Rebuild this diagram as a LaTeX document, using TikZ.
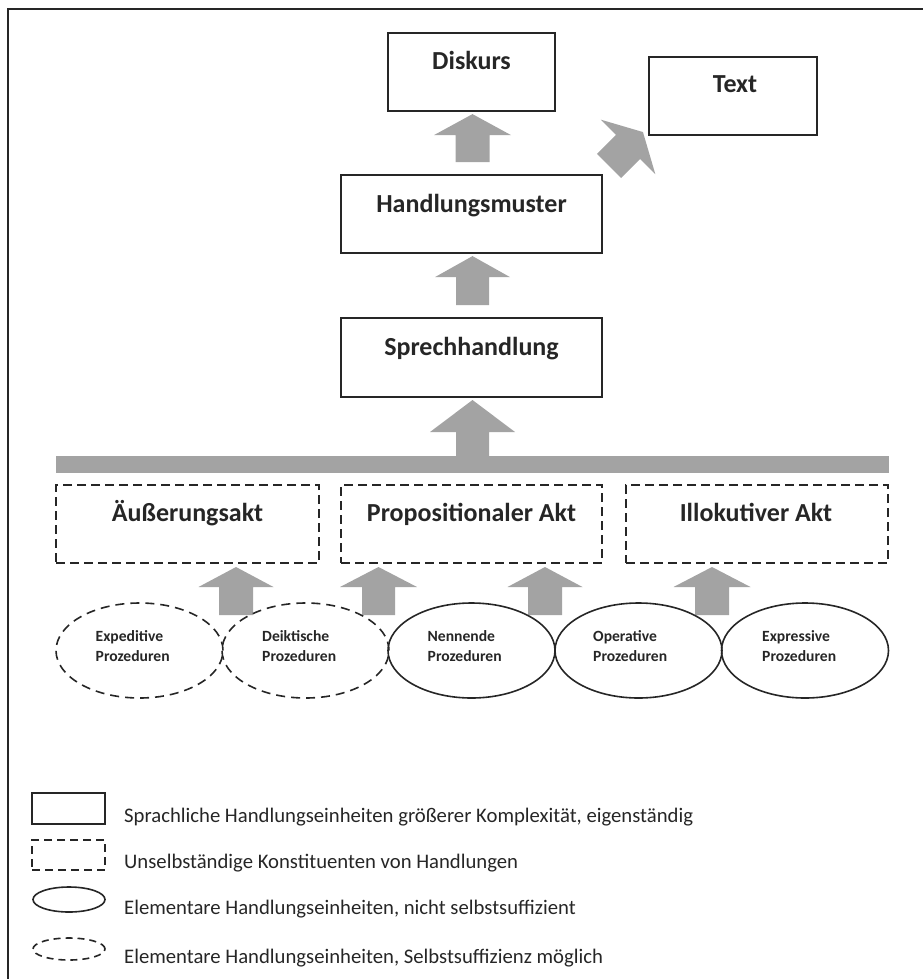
\documentclass[tikz,border=0pt]{standalone}
\usepackage{fontspec}
\setmainfont{Carlito}
\usetikzlibrary{shapes.geometric,calc}
\definecolor{ink}{RGB}{38,38,38}
\definecolor{arrowgray}{RGB}{163,163,163}
\begin{document}
\begin{tikzpicture}[x=1pt,y=-1pt,
  solidbox/.style={draw=ink,line width=1.8pt,rectangle,inner sep=0pt},
  dashbox/.style={solidbox,dash pattern=on 9pt off 5pt},
  solidell/.style={draw=ink,line width=1.6pt,ellipse,inner sep=0pt,minimum width=167pt,minimum height=95pt},
  dashell/.style={solidell,dash pattern=on 9pt off 6pt},
  bigtxt/.style={font=\bfseries\fontsize{26}{30}\selectfont,text=ink,anchor=base,inner sep=0pt},
  proctxt/.style={font=\bfseries\fontsize{15.6}{20}\selectfont,text=ink,align=left,anchor=base west,inner sep=0pt},
  legtxt/.style={font=\fontsize{20.7}{25}\selectfont,text=ink,anchor=base west,inner sep=0pt},
  pics/barrow/.style n args={4}{code={
    \fill[arrowgray] (-#1,0) -- (-#1,-#2) -- (-#3,-#2) -- (0,-#2-#4) -- (#3,-#2) -- (#1,-#2) -- (#1,0) -- cycle;}}
]
\useasboundingbox (0,0) rectangle (923,979);
% frame (top and left edges visible)
\draw[ink,line width=2pt] (8,979) -- (8,9) -- (923,9);

% upper boxes
\node[solidbox,minimum width=167pt,minimum height=78pt] (disk) at (471.5,72) {};
\node[bigtxt] (diskt) at (471.5,70) {Diskurs};
\node[solidbox,minimum width=168pt,minimum height=78pt] (text) at (733,96) {};
\node[bigtxt] (textt) at (735,93) {Text};
\node[solidbox,minimum width=261pt,minimum height=78pt] (hm) at (471.5,214) {};
\node[bigtxt] (hmt) at (471.5,212) {Handlungsmuster};
\node[solidbox,minimum width=261pt,minimum height=79pt] (sh) at (471.5,357.5) {};
\node[bigtxt] (sht) at (471.5,355) {Sprechhandlung};

% block arrows between upper boxes
\pic at ($(hm.north)+(1,-12)$) {barrow={17}{27}{38.5}{21}};
\pic[rotate=-45] at (609,166) {barrow={17}{27}{38.5}{21}};
\pic at ($(sh.north)+(1,-12)$) {barrow={16.5}{28}{37.5}{21}};

% bar and big arrow
\fill[arrowgray] (56,456) rectangle (889,473);
\pic at (472.5,457) {barrow={16.5}{25}{42.5}{32}};

% dashed act boxes
\node[dashbox,minimum width=263pt,minimum height=78pt] (ua) at (187.5,524) {};
\node[bigtxt] (uat) at (187.5,521) {Äußerungsakt};
\node[dashbox,minimum width=261pt,minimum height=78pt] (pa) at (471.5,524) {};
\node[bigtxt] (pat) at (471.5,521) {Propositionaler Akt};
\node[dashbox,minimum width=262pt,minimum height=78pt] (ia) at (757,524) {};
\node[bigtxt] (iat) at (756,521) {Illokutiver Akt};

% arrows from procedures to acts
\pic at (236,615) {barrow={17}{28}{37.5}{20}};
\pic at (378.5,615) {barrow={16.5}{28}{38.5}{20}};
\pic at (545,615) {barrow={17}{28}{37.5}{20}};
\pic at (712,615) {barrow={17}{28}{38.5}{20}};

% procedure ellipses
\node[dashell] (e1) at (139.5,650.5) {};
\node[dashell] (e2) at (305.5,650.5) {};
\node[solidell] (e3) at (471.5,650.5) {};
\node[solidell] (e4) at (638.5,650.5) {};
\node[solidell] (e5) at (805,650.5) {};
\node[proctxt] (e1t) at (95.5,661) {Expeditive\\Prozeduren};
\node[proctxt] (e2t) at (262,661) {Deiktische\\Prozeduren};
\node[proctxt] (e3t) at (427.5,661) {Nennende\\Prozeduren};
\node[proctxt] (e4t) at (593,661) {Operative\\Prozeduren};
\node[proctxt] (e5t) at (762,661) {Expressive\\Prozeduren};

% legend
\node[solidbox,minimum width=73pt,minimum height=31pt] (l1) at (68.5,808.5) {};
\node[legtxt] (l1t) at (124,822) {Sprachliche Handlungseinheiten größerer Komplexität, eigenständig};
\node[solidbox,dash pattern=on 8pt off 5pt,minimum width=73pt,minimum height=30pt] (l2) at (68.5,855) {};
\node[legtxt] (l2t) at (124,868) {Unselbständige Konstituenten von Handlungen};
\node[draw=ink,line width=1.6pt,ellipse,inner sep=0pt,minimum width=72pt,minimum height=25pt] (l3) at (69,899.5) {};
\node[legtxt] (l3t) at (124,914) {Elementare Handlungseinheiten, nicht selbstsuffizient};
\node[draw=ink,line width=1.6pt,ellipse,inner sep=0pt,minimum width=72pt,minimum height=22pt,dash pattern=on 7pt off 5pt] (l4) at (69,949) {};
\node[legtxt] (l4t) at (124,963) {Elementare Handlungseinheiten, Selbstsuffizienz möglich};
\end{tikzpicture}
\end{document}
